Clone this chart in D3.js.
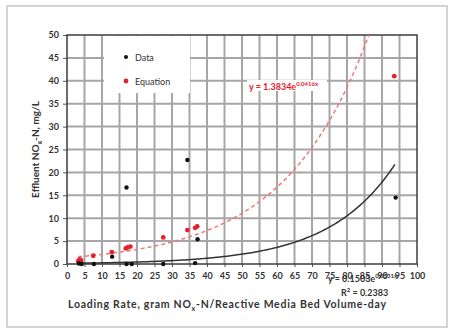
<!DOCTYPE html>
<html>
<head>
<meta charset="utf-8">
<script src="https://cdn.jsdelivr.net/npm/d3@7"></script>
<style>
  body { margin: 0; background: #fff; }
  text { font-family: Lato, "Liberation Sans", sans-serif; }
</style>
</head>
<body>
<div id="chart"></div>
<script>
// Measured data (black dots)
var dataX = [3.4, 4.2, 7.7, 12.9, 17.0, 17.0, 18.5, 27.5, 34.4, 36.6, 37.3, 93.9];
var dataY = [0.1, 0.0, 0.0, 1.6, 16.7, 0.0, 0.0, 0.0, 22.7, 0.2, 5.4, 14.5];

// Equation estimates (red dots)
var eqX = [3.2, 3.6, 4.0, 7.5, 12.8, 16.8, 17.3, 18.1, 27.5, 34.4, 36.6, 37.2, 93.5];
var eqY = [0.6, 1.0, 0.8, 1.8, 2.6, 3.4, 3.6, 3.8, 5.8, 7.4, 7.9, 8.2, 41.0];

var xTicks = d3.range(0, 101, 5);
var yTicks = d3.range(0, 51, 5);

// trendline coefficients y = a * e^(k x)
var redA = 1.3834, redK = 0.0416;
var blackA = 0.1503, blackK = 0.0531;

var svgWidth = 455;
var svgHeight = 330;

var margin = { top: 35, right: 38, bottom: 66, left: 67 };
var width = svgWidth - margin.left - margin.right;
var height = svgHeight - margin.top - margin.bottom;

var svg = d3.select("#chart")
    .append("svg")
    .attr("width", svgWidth)
    .attr("height", svgHeight);

// outer chart frame
svg.append("rect")
    .attr("x", 7).attr("y", 6)
    .attr("width", 440).attr("height", 321)
    .attr("fill", "#fff")
    .attr("stroke", "#d4d4d4")
    .attr("stroke-width", 2);

var chartGroup = svg.append("g")
    .attr("transform", `translate(${margin.left}, ${margin.top})`);

var xScale = d3.scaleLinear().domain([0, 100]).range([0, width]);
var yScale = d3.scaleLinear().domain([0, 50]).range([height, 0]);

// gridlines
chartGroup.append("g")
    .selectAll("line")
    .data(xTicks.slice(1, -1))
    .enter()
    .append("line")
    .attr("x1", d => xScale(d)).attr("x2", d => xScale(d))
    .attr("y1", 0).attr("y2", height)
    .attr("stroke", "#a6a6a6")
    .attr("stroke-width", 2);

chartGroup.append("g")
    .selectAll("line")
    .data(yTicks.slice(1, -1))
    .enter()
    .append("line")
    .attr("x1", 0).attr("x2", width)
    .attr("y1", d => yScale(d)).attr("y2", d => yScale(d))
    .attr("stroke", "#a6a6a6")
    .attr("stroke-width", 2);

// white boxes behind legend and equation label
chartGroup.append("rect")
    .attr("x", 37).attr("y", 1)
    .attr("width", 86).attr("height", 57)
    .attr("fill", "#fff");

chartGroup.append("rect")
    .attr("x", 180).attr("y", 45)
    .attr("width", 80).attr("height", 11)
    .attr("fill", "#fff");

// axes
var bottomAxis = d3.axisBottom(xScale).tickValues(xTicks).tickSize(3).tickPadding(6);
var leftAxis = d3.axisLeft(yScale).tickValues(yTicks).tickSize(4).tickPadding(4);

var xAxis = chartGroup.append("g")
    .attr("transform", `translate(0, ${height})`)
    .call(bottomAxis);

var yAxis = chartGroup.append("g")
    .call(leftAxis);

[xAxis, yAxis].forEach(function (ax) {
    ax.select(".domain").remove();
    ax.selectAll("line").attr("stroke", "#555");
    ax.selectAll("text")
        .attr("fill", "#333")
        .style("font-size", "9px")
        .style("font-weight", "bold");
});

// plot border
chartGroup.append("rect")
    .attr("width", width).attr("height", height)
    .attr("fill", "none")
    .attr("stroke", "#3c3c3c")
    .attr("stroke-width", 1.5);

// clip for trendlines
svg.append("clipPath").attr("id", "plotClip")
    .append("rect").attr("width", width).attr("height", height);

var curveX = d3.range(3.2, 94.01, 0.5);

var line = d3.line()
    .x(d => xScale(d[0]))
    .y(d => yScale(d[1]));

chartGroup.append("path")
    .attr("clip-path", "url(#plotClip)")
    .attr("d", line(curveX.map(x => [x, blackA * Math.exp(blackK * x)])))
    .attr("fill", "none")
    .attr("stroke", "#333")
    .attr("stroke-width", 1.5);

chartGroup.append("path")
    .attr("clip-path", "url(#plotClip)")
    .attr("d", line(curveX.map(x => [x, redA * Math.exp(redK * x)])))
    .attr("fill", "none")
    .attr("stroke", "#f07878")
    .attr("stroke-width", 1.5)
    .attr("stroke-dasharray", "4,3");

// points
chartGroup.append("g")
    .selectAll("circle")
    .data(eqX.map((x, i) => [x, eqY[i]]))
    .enter()
    .append("circle")
    .attr("cx", d => xScale(d[0]))
    .attr("cy", d => yScale(d[1]))
    .attr("r", 2.4)
    .attr("fill", "#e8202a");

chartGroup.append("g")
    .selectAll("circle")
    .data(dataX.map((x, i) => [x, dataY[i]]))
    .enter()
    .append("circle")
    .attr("cx", d => xScale(d[0]))
    .attr("cy", d => yScale(d[1]))
    .attr("r", 2.2)
    .attr("fill", "#111");

// legend
var legend = chartGroup.append("g")
    .attr("transform", "translate(59, 22)");

legend.append("circle").attr("cx", 0).attr("cy", 0).attr("r", 2).attr("fill", "#111");
legend.append("text").attr("x", 9).attr("y", 3.5)
    .style("font-size", "9px").attr("fill", "#333").text("Data");

legend.append("circle").attr("cx", 0).attr("cy", 24).attr("r", 2.4).attr("fill", "#e8202a");
legend.append("text").attr("x", 9).attr("y", 27.5)
    .style("font-size", "9px").attr("fill", "#333").text("Equation");

// trendline labels
var redLabel = chartGroup.append("text")
    .attr("x", 182).attr("y", 55)
    .attr("fill", "#e8202a")
    .style("font-size", "9px")
    .style("font-weight", "bold");
redLabel.append("tspan").text("y = 1.3834e");
redLabel.append("tspan").attr("dy", -4).style("font-size", "6px").text("0.0416x");

// black trendline label sits over the x tick labels, as in the original
var blackLabel = chartGroup.append("text")
    .attr("x", 261).attr("y", height + 18)
    .attr("fill", "#333")
    .style("font-size", "9px")
    .style("font-weight", "bold");
blackLabel.append("tspan").text("y = 0.1503e");
blackLabel.append("tspan").attr("dy", -4).style("font-size", "6px").text("0.0531x");

var r2Label = chartGroup.append("text")
    .attr("x", 274).attr("y", height + 32)
    .attr("fill", "#333")
    .style("font-size", "9px")
    .style("font-weight", "bold");
r2Label.append("tspan").text("R");
r2Label.append("tspan").attr("dy", -4).style("font-size", "6px").text("2");
r2Label.append("tspan").attr("dy", 4).text(" = 0.2383");

// axis titles
var xTitle = svg.append("text")
    .attr("x", 68).attr("y", 308)
    .attr("textLength", 318)
    .attr("fill", "#333")
    .style("font-size", "10.5px")
    .style("font-weight", "bold");
xTitle.append("tspan").text("Loading Rate, gram NO");
xTitle.append("tspan").attr("dy", 3).style("font-size", "7px").text("x");
xTitle.append("tspan").attr("dy", -3).text("-N/Reactive Media Bed Volume-day");

var yTitle = svg.append("text")
    .attr("transform", `translate(39, ${margin.top + height / 2}) rotate(-90)`)
    .attr("text-anchor", "middle")
    .attr("fill", "#333")
    .style("font-size", "10px")
    .style("font-weight", "bold");
yTitle.append("tspan").text("Effluent NO");
yTitle.append("tspan").attr("dy", 3).style("font-size", "7px").text("x");
yTitle.append("tspan").attr("dy", -3).text("-N, mg/L");
</script>
</body>
</html>
